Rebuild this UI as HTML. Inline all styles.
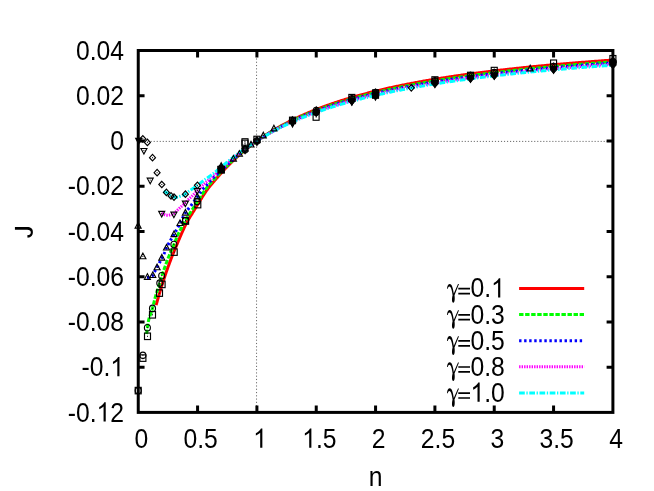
<!DOCTYPE html>
<html><head><meta charset="utf-8"><title>J vs n</title>
<style>html,body{margin:0;padding:0;background:#fff;overflow:hidden}svg{display:block;will-change:transform}</style></head>
<body>
<svg width="654" height="491" viewBox="0 0 654 491">
<rect x="0" y="0" width="654" height="491" fill="#ffffff"/>
<g stroke="#000" stroke-width="0.6" fill="none">
<path d="M138.55 141.40 H612.90" stroke-dasharray="1.15 1.87"/>
<path d="M256.55 51.90 V412.40" stroke-dasharray="1.15 2.12"/>
</g>
<path d="M156.10 305.21 L156.60 303.36 L157.10 301.54 L157.60 299.74 L158.10 297.97 L158.60 296.22 L159.10 294.50 L159.60 292.80 L160.10 291.12 L160.60 289.46 L161.10 287.82 L161.60 286.21 L162.10 284.61 L162.60 283.03 L163.10 281.48 L163.60 279.94 L164.10 278.42 L164.60 276.91 L165.10 275.43 L165.60 273.96 L166.10 272.51 L166.60 271.07 L167.10 269.65 L167.60 268.25 L168.10 266.86 L168.60 265.49 L169.10 264.13 L169.60 262.78 L170.10 261.45 L170.60 260.14 L171.10 258.83 L171.60 257.54 L172.10 256.27 L172.60 255.00 L173.10 253.75 L173.60 252.50 L174.10 251.27 L174.60 250.05 L175.10 248.84 L175.60 247.63 L176.10 246.43 L176.60 245.24 L177.10 244.05 L177.60 242.87 L178.10 241.69 L178.60 240.52 L179.10 239.34 L179.60 238.17 L180.10 237.00 L180.60 235.84 L181.10 234.68 L181.60 233.52 L182.10 232.38 L182.60 231.25 L183.10 230.13 L183.60 229.03 L184.10 227.95 L184.60 226.89 L185.10 225.85 L185.60 224.84 L186.10 223.86 L186.60 222.90 L187.10 221.97 L187.60 221.06 L188.10 220.18 L188.60 219.31 L189.10 218.47 L189.60 217.64 L190.10 216.81 L190.60 216.00 L191.10 215.19 L191.60 214.39 L192.10 213.59 L192.60 212.78 L193.10 211.98 L193.60 211.17 L194.10 210.36 L194.60 209.55 L195.10 208.74 L195.60 207.92 L196.10 207.11 L196.60 206.29 L197.10 205.47 L197.60 204.65 L198.10 203.83 L198.60 203.01 L199.10 202.19 L199.60 201.37 L200.10 200.55 L200.60 199.73 L201.10 198.92 L201.60 198.11 L202.10 197.31 L202.60 196.51 L203.10 195.72 L203.60 194.94 L204.10 194.16 L204.60 193.40 L205.10 192.65 L205.60 191.91 L206.10 191.18 L206.60 190.47 L207.10 189.78 L207.60 189.10 L208.10 188.43 L208.60 187.77 L209.10 187.13 L209.60 186.50 L210.10 185.88 L210.60 185.27 L211.10 184.67 L211.60 184.08 L212.10 183.49 L212.60 182.91 L213.10 182.32 L213.60 181.75 L214.10 181.17 L214.60 180.59 L215.10 180.02 L215.60 179.44 L216.10 178.87 L216.60 178.29 L217.10 177.72 L217.60 177.15 L218.10 176.58 L218.60 176.00 L219.10 175.44 L219.60 174.87 L220.10 174.30 L220.60 173.74 L221.10 173.18 L221.60 172.62 L222.10 172.07 L222.60 171.51 L223.10 170.97 L223.60 170.42 L224.10 169.88 L224.60 169.34 L225.10 168.81 L225.60 168.28 L226.10 167.75 L226.60 167.22 L227.10 166.70 L227.60 166.19 L228.10 165.67 L228.60 165.16 L229.10 164.65 L229.60 164.15 L230.10 163.65 L230.60 163.15 L231.10 162.66 L231.60 162.17 L232.10 161.68 L232.60 161.20 L233.10 160.72 L233.60 160.24 L234.10 159.76 L234.60 159.29 L235.10 158.82 L235.60 158.36 L236.10 157.90 L236.60 157.44 L237.10 156.98 L237.60 156.53 L238.10 156.08 L238.60 155.63 L239.10 155.18 L239.60 154.74 L240.10 154.30 L240.60 153.86 L241.10 153.43 L241.60 153.00 L242.10 152.57 L242.60 152.15 L243.10 151.72 L243.60 151.30 L244.10 150.88 L244.60 150.47 L245.10 150.05 L245.60 149.64 L246.10 149.24 L246.60 148.83 L247.10 148.43 L247.60 148.03 L248.10 147.63 L248.60 147.23 L249.10 146.84 L249.60 146.45 L250.10 146.06 L250.60 145.67 L251.10 145.29 L251.60 144.91 L252.10 144.53 L252.60 144.15 L253.10 143.78 L253.60 143.40 L254.10 143.03 L254.60 142.67 L255.10 142.30 L255.60 141.94 L256.10 141.57 L256.60 141.21 L256.91 140.99 L257.91 140.28 L258.91 139.58 L259.91 138.88 L260.91 138.19 L261.91 137.51 L262.91 136.84 L263.91 136.18 L264.91 135.52 L265.91 134.87 L266.91 134.23 L267.91 133.59 L268.91 132.97 L269.91 132.34 L270.91 131.73 L271.91 131.12 L272.91 130.52 L273.91 129.92 L274.91 129.34 L275.91 128.75 L276.91 128.18 L277.91 127.61 L278.91 127.04 L279.91 126.48 L280.91 125.93 L281.91 125.38 L282.91 124.84 L283.91 124.30 L284.91 123.77 L285.91 123.25 L286.91 122.73 L287.91 122.21 L288.91 121.70 L289.91 121.20 L290.91 120.70 L291.91 120.20 L292.91 119.71 L293.91 119.23 L294.91 118.75 L295.91 118.27 L296.91 117.80 L297.91 117.34 L298.91 116.87 L299.91 116.42 L300.91 115.96 L301.91 115.51 L302.91 115.07 L303.91 114.63 L304.91 114.19 L305.91 113.76 L306.91 113.33 L307.91 112.90 L308.91 112.48 L309.91 112.07 L310.91 111.65 L311.91 111.24 L312.91 110.84 L313.91 110.44 L314.91 110.04 L315.91 109.64 L316.91 109.25 L317.91 108.86 L318.91 108.48 L319.91 108.10 L320.91 107.72 L321.91 107.35 L322.91 106.97 L323.91 106.61 L324.91 106.24 L325.91 105.88 L326.91 105.52 L327.91 105.17 L328.91 104.81 L329.91 104.46 L330.91 104.12 L331.91 103.77 L332.91 103.43 L333.91 103.09 L334.91 102.76 L335.91 102.43 L336.91 102.10 L337.91 101.77 L338.91 101.44 L339.91 101.12 L340.91 100.80 L341.91 100.49 L342.91 100.17 L343.91 99.86 L344.91 99.55 L345.91 99.24 L346.91 98.94 L347.91 98.64 L348.91 98.34 L349.91 98.04 L350.91 97.75 L351.91 97.46 L352.91 97.17 L353.91 96.88 L354.91 96.59 L355.91 96.31 L356.91 96.03 L357.91 95.75 L358.91 95.47 L359.91 95.20 L360.91 94.92 L361.91 94.65 L362.91 94.38 L363.91 94.12 L364.91 93.85 L365.91 93.59 L366.91 93.33 L367.91 93.07 L368.91 92.81 L369.91 92.56 L370.91 92.30 L371.91 92.05 L372.91 91.80 L373.91 91.55 L374.91 91.31 L375.91 91.06 L376.91 90.82 L377.91 90.58 L378.91 90.34 L379.91 90.10 L380.91 89.87 L381.91 89.63 L382.91 89.40 L383.91 89.17 L384.91 88.94 L385.91 88.71 L386.91 88.49 L387.91 88.26 L388.91 88.04 L389.91 87.82 L390.91 87.60 L391.91 87.38 L392.91 87.16 L393.91 86.95 L394.91 86.73 L395.91 86.52 L396.91 86.31 L397.91 86.10 L398.91 85.89 L399.91 85.68 L400.91 85.48 L401.91 85.27 L402.91 85.07 L403.91 84.87 L404.91 84.67 L405.91 84.47 L406.91 84.27 L407.91 84.07 L408.91 83.88 L409.91 83.69 L410.91 83.49 L411.91 83.30 L412.91 83.11 L413.91 82.92 L414.91 82.73 L415.91 82.55 L416.91 82.36 L417.91 82.18 L418.91 82.00 L419.91 81.81 L420.91 81.63 L421.91 81.45 L422.91 81.27 L423.91 81.10 L424.91 80.92 L425.91 80.75 L426.91 80.57 L427.91 80.40 L428.91 80.23 L429.91 80.05 L430.91 79.88 L431.91 79.72 L432.91 79.55 L433.91 79.38 L434.91 79.22 L435.91 79.05 L436.91 78.89 L437.91 78.72 L438.91 78.56 L439.91 78.40 L440.91 78.24 L441.91 78.08 L442.91 77.92 L443.91 77.77 L444.91 77.61 L445.91 77.45 L446.91 77.30 L447.91 77.14 L448.91 76.99 L449.91 76.84 L450.91 76.69 L451.91 76.54 L452.91 76.39 L453.91 76.24 L454.91 76.09 L455.91 75.95 L456.91 75.80 L457.91 75.66 L458.91 75.51 L459.91 75.37 L460.91 75.22 L461.91 75.08 L462.91 74.94 L463.91 74.80 L464.91 74.66 L465.91 74.52 L466.91 74.38 L467.91 74.25 L468.91 74.11 L469.91 73.97 L470.91 73.84 L471.91 73.70 L472.91 73.57 L473.91 73.44 L474.91 73.31 L475.91 73.17 L476.91 73.04 L477.91 72.91 L478.91 72.78 L479.91 72.66 L480.91 72.53 L481.91 72.40 L482.91 72.27 L483.91 72.15 L484.91 72.02 L485.91 71.90 L486.91 71.77 L487.91 71.65 L488.91 71.53 L489.91 71.41 L490.91 71.28 L491.91 71.16 L492.91 71.04 L493.91 70.92 L494.91 70.80 L495.91 70.69 L496.91 70.57 L497.91 70.45 L498.91 70.33 L499.91 70.22 L500.91 70.10 L501.91 69.99 L502.91 69.87 L503.91 69.76 L504.91 69.65 L505.91 69.53 L506.91 69.42 L507.91 69.31 L508.91 69.20 L509.91 69.09 L510.91 68.98 L511.91 68.87 L512.91 68.76 L513.91 68.65 L514.91 68.55 L515.91 68.44 L516.91 68.33 L517.91 68.23 L518.91 68.12 L519.91 68.01 L520.91 67.91 L521.91 67.81 L522.91 67.70 L523.91 67.60 L524.91 67.50 L525.91 67.39 L526.91 67.29 L527.91 67.19 L528.91 67.09 L529.91 66.99 L530.91 66.89 L531.91 66.79 L532.91 66.69 L533.91 66.60 L534.91 66.50 L535.91 66.40 L536.91 66.30 L537.91 66.21 L538.91 66.11 L539.91 66.01 L540.91 65.92 L541.91 65.82 L542.91 65.73 L543.91 65.64 L544.91 65.54 L545.91 65.45 L546.91 65.36 L547.91 65.27 L548.91 65.17 L549.91 65.08 L550.91 64.99 L551.91 64.90 L552.91 64.81 L553.91 64.72 L554.91 64.63 L555.91 64.54 L556.91 64.45 L557.91 64.37 L558.91 64.28 L559.91 64.19 L560.91 64.10 L561.91 64.02 L562.91 63.93 L563.91 63.85 L564.91 63.76 L565.91 63.67 L566.91 63.59 L567.91 63.51 L568.91 63.42 L569.91 63.34 L570.91 63.26 L571.91 63.17 L572.91 63.09 L573.91 63.01 L574.91 62.93 L575.91 62.84 L576.91 62.76 L577.91 62.68 L578.91 62.60 L579.91 62.52 L580.91 62.44 L581.91 62.36 L582.91 62.28 L583.91 62.20 L584.91 62.13 L585.91 62.05 L586.91 61.97 L587.91 61.89 L588.91 61.82 L589.91 61.74 L590.91 61.66 L591.91 61.59 L592.91 61.51 L593.91 61.43 L594.91 61.36 L595.91 61.28 L596.91 61.21 L597.91 61.14 L598.91 61.06 L599.91 60.99 L600.91 60.91 L601.91 60.84 L602.91 60.77 L603.91 60.70 L604.91 60.62 L605.91 60.55 L606.91 60.48 L607.91 60.41 L608.91 60.34 L609.91 60.27 L610.91 60.20 L611.91 60.13 L612.90 60.06" fill="none" stroke="#ff0000" stroke-width="3.0"/>
<path d="M146.60 334.00 L147.10 329.84 L147.60 325.98 L148.10 322.75 L148.60 320.33 L149.10 318.40 L149.60 316.81 L150.10 315.45 L150.60 314.19 L151.10 312.93 L151.60 311.55 L152.10 309.94 L152.60 307.98 L153.10 305.90 L153.60 303.82 L154.10 301.78 L154.60 299.78 L155.10 297.87 L155.60 296.09 L156.10 294.42 L156.60 292.84 L157.10 291.33 L157.60 289.85 L158.10 288.38 L158.60 286.89 L159.10 285.36 L159.60 283.76 L160.10 282.07 L160.60 280.30 L161.10 278.52 L161.60 276.82 L162.10 275.23 L162.60 273.68 L163.10 272.17 L163.60 270.69 L164.10 269.24 L164.60 267.81 L165.10 266.40 L165.60 265.00 L166.10 263.62 L166.60 262.25 L167.10 260.91 L167.60 259.58 L168.10 258.27 L168.60 256.98 L169.10 255.72 L169.60 254.46 L170.10 253.23 L170.60 252.02 L171.10 250.86 L171.60 249.73 L172.10 248.63 L172.60 247.52 L173.10 246.39 L173.60 245.23 L174.10 244.01 L174.60 242.77 L175.10 241.54 L175.60 240.31 L176.10 239.09 L176.60 237.87 L177.10 236.67 L177.60 235.47 L178.10 234.31 L178.60 233.23 L179.10 232.22 L179.60 231.26 L180.10 230.32 L180.60 229.40 L181.10 228.47 L181.60 227.52 L182.10 226.59 L182.60 225.69 L183.10 224.81 L183.60 223.95 L184.10 223.08 L184.60 222.21 L185.10 221.33 L185.60 220.42 L186.10 219.51 L186.60 218.62 L187.10 217.76 L187.60 216.91 L188.10 216.09 L188.60 215.28 L189.10 214.48 L189.60 213.69 L190.10 212.91 L190.60 212.14 L191.10 211.37 L191.60 210.60 L192.10 209.83 L192.60 209.06 L193.10 208.29 L193.60 207.52 L194.10 206.74 L194.60 205.96 L195.10 205.18 L195.60 204.40 L196.10 203.62 L196.60 202.84 L197.10 202.07 L197.60 201.29 L198.10 200.51 L198.60 199.74 L199.10 198.96 L199.60 198.19 L200.10 197.42 L200.60 196.65 L201.10 195.88 L201.60 195.12 L202.10 194.36 L202.60 193.60 L203.10 192.85 L203.60 192.11 L204.10 191.37 L204.60 190.64 L205.10 189.92 L205.60 189.22 L206.10 188.53 L206.60 187.85 L207.10 187.19 L207.60 186.55 L208.10 185.93 L208.60 185.32 L209.10 184.73 L209.60 184.17 L210.10 183.63 L210.60 183.10 L211.10 182.58 L211.60 182.06 L212.10 181.54 L212.60 181.01 L213.10 180.47 L213.60 179.93 L214.10 179.39 L214.60 178.84 L215.10 178.30 L215.60 177.75 L216.10 177.21 L216.60 176.66 L217.10 176.11 L217.60 175.56 L218.10 175.01 L218.60 174.47 L219.10 173.92 L219.60 173.38 L220.10 172.84 L220.60 172.30 L221.10 171.77 L221.60 171.24 L222.10 170.71 L222.60 170.19 L223.10 169.67 L223.60 169.16 L224.10 168.65 L224.60 168.14 L225.10 167.64 L225.60 167.14 L226.10 166.65 L226.60 166.15 L227.10 165.67 L227.60 165.18 L228.10 164.70 L228.60 164.22 L229.10 163.74 L229.60 163.27 L230.10 162.80 L230.60 162.33 L231.10 161.86 L231.60 161.39 L232.10 160.93 L232.60 160.47 L233.10 160.01 L233.60 159.56 L234.10 159.10 L234.60 158.65 L235.10 158.20 L235.60 157.76 L236.10 157.31 L236.60 156.87 L237.10 156.43 L237.60 156.00 L238.10 155.56 L238.60 155.13 L239.10 154.70 L239.60 154.28 L240.10 153.85 L240.60 153.43 L241.10 153.01 L241.60 152.60 L242.10 152.18 L242.60 151.77 L243.10 151.37 L243.60 150.96 L244.10 150.56 L244.60 150.15 L245.10 149.76 L245.60 149.36 L246.10 148.97 L246.60 148.58 L247.10 148.19 L247.60 147.80 L248.10 147.42 L248.60 147.03 L249.10 146.65 L249.60 146.28 L250.10 145.90 L250.60 145.53 L251.10 145.16 L251.60 144.79 L252.10 144.42 L252.60 144.05 L253.10 143.69 L253.60 143.33 L254.10 142.97 L254.60 142.61 L255.10 142.26 L255.60 141.91 L256.10 141.56 L256.60 141.21 L256.91 140.99 L257.91 140.30 L258.91 139.62 L259.91 138.95 L260.91 138.29 L261.91 137.64 L262.91 136.99 L263.91 136.35 L264.91 135.71 L265.91 135.09 L266.91 134.47 L267.91 133.85 L268.91 133.24 L269.91 132.64 L270.91 132.05 L271.91 131.46 L272.91 130.88 L273.91 130.31 L274.91 129.74 L275.91 129.17 L276.91 128.62 L277.91 128.07 L278.91 127.52 L279.91 126.98 L280.91 126.44 L281.91 125.91 L282.91 125.39 L283.91 124.87 L284.91 124.36 L285.91 123.85 L286.91 123.35 L287.91 122.85 L288.91 122.36 L289.91 121.87 L290.91 121.38 L291.91 120.90 L292.91 120.43 L293.91 119.96 L294.91 119.49 L295.91 119.03 L296.91 118.58 L297.91 118.12 L298.91 117.68 L299.91 117.23 L300.91 116.79 L301.91 116.36 L302.91 115.92 L303.91 115.50 L304.91 115.07 L305.91 114.65 L306.91 114.24 L307.91 113.83 L308.91 113.42 L309.91 113.01 L310.91 112.61 L311.91 112.21 L312.91 111.82 L313.91 111.43 L314.91 111.04 L315.91 110.66 L316.91 110.28 L317.91 109.90 L318.91 109.53 L319.91 109.16 L320.91 108.79 L321.91 108.42 L322.91 108.06 L323.91 107.70 L324.91 107.35 L325.91 107.00 L326.91 106.65 L327.91 106.30 L328.91 105.96 L329.91 105.62 L330.91 105.28 L331.91 104.94 L332.91 104.61 L333.91 104.28 L334.91 103.96 L335.91 103.63 L336.91 103.31 L337.91 102.99 L338.91 102.68 L339.91 102.36 L340.91 102.05 L341.91 101.74 L342.91 101.43 L343.91 101.13 L344.91 100.83 L345.91 100.53 L346.91 100.23 L347.91 99.94 L348.91 99.65 L349.91 99.35 L350.91 99.07 L351.91 98.78 L352.91 98.50 L353.91 98.22 L354.91 97.94 L355.91 97.66 L356.91 97.38 L357.91 97.11 L358.91 96.84 L359.91 96.57 L360.91 96.30 L361.91 96.04 L362.91 95.78 L363.91 95.52 L364.91 95.26 L365.91 95.00 L366.91 94.74 L367.91 94.49 L368.91 94.24 L369.91 93.99 L370.91 93.74 L371.91 93.49 L372.91 93.25 L373.91 93.01 L374.91 92.76 L375.91 92.52 L376.91 92.29 L377.91 92.05 L378.91 91.82 L379.91 91.58 L380.91 91.35 L381.91 91.12 L382.91 90.89 L383.91 90.67 L384.91 90.44 L385.91 90.22 L386.91 90.00 L387.91 89.78 L388.91 89.56 L389.91 89.34 L390.91 89.12 L391.91 88.91 L392.91 88.69 L393.91 88.48 L394.91 88.27 L395.91 88.06 L396.91 87.86 L397.91 87.65 L398.91 87.44 L399.91 87.24 L400.91 87.04 L401.91 86.84 L402.91 86.64 L403.91 86.44 L404.91 86.24 L405.91 86.05 L406.91 85.85 L407.91 85.66 L408.91 85.47 L409.91 85.28 L410.91 85.09 L411.91 84.90 L412.91 84.71 L413.91 84.52 L414.91 84.34 L415.91 84.16 L416.91 83.97 L417.91 83.79 L418.91 83.61 L419.91 83.43 L420.91 83.25 L421.91 83.08 L422.91 82.90 L423.91 82.72 L424.91 82.55 L425.91 82.38 L426.91 82.21 L427.91 82.04 L428.91 81.87 L429.91 81.70 L430.91 81.53 L431.91 81.36 L432.91 81.20 L433.91 81.03 L434.91 80.87 L435.91 80.70 L436.91 80.54 L437.91 80.38 L438.91 80.22 L439.91 80.06 L440.91 79.90 L441.91 79.75 L442.91 79.59 L443.91 79.43 L444.91 79.28 L445.91 79.13 L446.91 78.97 L447.91 78.82 L448.91 78.67 L449.91 78.52 L450.91 78.37 L451.91 78.22 L452.91 78.07 L453.91 77.93 L454.91 77.78 L455.91 77.64 L456.91 77.49 L457.91 77.35 L458.91 77.21 L459.91 77.06 L460.91 76.92 L461.91 76.78 L462.91 76.64 L463.91 76.50 L464.91 76.36 L465.91 76.23 L466.91 76.09 L467.91 75.95 L468.91 75.82 L469.91 75.68 L470.91 75.55 L471.91 75.42 L472.91 75.28 L473.91 75.15 L474.91 75.02 L475.91 74.89 L476.91 74.76 L477.91 74.63 L478.91 74.50 L479.91 74.38 L480.91 74.25 L481.91 74.12 L482.91 74.00 L483.91 73.87 L484.91 73.75 L485.91 73.63 L486.91 73.50 L487.91 73.38 L488.91 73.26 L489.91 73.14 L490.91 73.02 L491.91 72.90 L492.91 72.78 L493.91 72.66 L494.91 72.54 L495.91 72.42 L496.91 72.31 L497.91 72.19 L498.91 72.07 L499.91 71.96 L500.91 71.84 L501.91 71.73 L502.91 71.62 L503.91 71.50 L504.91 71.39 L505.91 71.28 L506.91 71.17 L507.91 71.06 L508.91 70.95 L509.91 70.84 L510.91 70.73 L511.91 70.62 L512.91 70.51 L513.91 70.40 L514.91 70.30 L515.91 70.19 L516.91 70.09 L517.91 69.98 L518.91 69.87 L519.91 69.77 L520.91 69.67 L521.91 69.56 L522.91 69.46 L523.91 69.36 L524.91 69.26 L525.91 69.15 L526.91 69.05 L527.91 68.95 L528.91 68.85 L529.91 68.75 L530.91 68.65 L531.91 68.55 L532.91 68.46 L533.91 68.36 L534.91 68.26 L535.91 68.16 L536.91 68.07 L537.91 67.97 L538.91 67.88 L539.91 67.78 L540.91 67.69 L541.91 67.59 L542.91 67.50 L543.91 67.40 L544.91 67.31 L545.91 67.22 L546.91 67.13 L547.91 67.04 L548.91 66.94 L549.91 66.85 L550.91 66.76 L551.91 66.67 L552.91 66.58 L553.91 66.49 L554.91 66.40 L555.91 66.32 L556.91 66.23 L557.91 66.14 L558.91 66.05 L559.91 65.97 L560.91 65.88 L561.91 65.79 L562.91 65.71 L563.91 65.62 L564.91 65.54 L565.91 65.45 L566.91 65.37 L567.91 65.28 L568.91 65.20 L569.91 65.12 L570.91 65.03 L571.91 64.95 L572.91 64.87 L573.91 64.79 L574.91 64.70 L575.91 64.62 L576.91 64.54 L577.91 64.46 L578.91 64.38 L579.91 64.30 L580.91 64.22 L581.91 64.14 L582.91 64.06 L583.91 63.99 L584.91 63.91 L585.91 63.83 L586.91 63.75 L587.91 63.68 L588.91 63.60 L589.91 63.52 L590.91 63.45 L591.91 63.37 L592.91 63.29 L593.91 63.22 L594.91 63.14 L595.91 63.07 L596.91 62.99 L597.91 62.92 L598.91 62.85 L599.91 62.77 L600.91 62.70 L601.91 62.63 L602.91 62.55 L603.91 62.48 L604.91 62.41 L605.91 62.34 L606.91 62.27 L607.91 62.20 L608.91 62.12 L609.91 62.05 L610.91 61.98 L611.91 61.91 L612.90 61.84" fill="none" stroke="#00ff00" stroke-width="3.0" stroke-dasharray="4.4 1.65"/>
<path d="M147.00 277.60 L147.50 277.54 L148.00 277.47 L148.50 277.37 L149.00 277.25 L149.50 277.09 L150.00 276.90 L150.50 276.74 L151.00 276.62 L151.50 276.46 L152.00 276.19 L152.50 275.71 L153.00 274.96 L153.50 273.97 L154.00 272.90 L154.50 271.93 L155.00 271.05 L155.50 270.22 L156.00 269.40 L156.50 268.57 L157.00 267.68 L157.50 266.75 L158.00 265.79 L158.50 264.82 L159.00 263.82 L159.50 262.80 L160.00 261.74 L160.50 260.66 L161.00 259.58 L161.50 258.51 L162.00 257.51 L162.50 256.60 L163.00 255.73 L163.50 254.85 L164.00 253.88 L164.50 252.76 L165.00 251.53 L165.50 250.25 L166.00 248.99 L166.50 247.80 L167.00 246.72 L167.50 245.73 L168.00 244.81 L168.50 243.91 L169.00 243.00 L169.50 242.09 L170.00 241.20 L170.50 240.33 L171.00 239.46 L171.50 238.60 L172.00 237.75 L172.50 236.93 L173.00 236.10 L173.50 235.26 L174.00 234.40 L174.50 233.51 L175.00 232.61 L175.50 231.69 L176.00 230.78 L176.50 229.85 L177.00 228.93 L177.50 228.01 L178.00 227.09 L178.50 226.17 L179.00 225.23 L179.50 224.27 L180.00 223.30 L180.50 222.30 L181.00 221.30 L181.50 220.28 L182.00 219.26 L182.50 218.25 L183.00 217.25 L183.50 216.27 L184.00 215.31 L184.50 214.39 L185.00 213.51 L185.50 212.67 L186.00 211.90 L186.50 211.18 L187.00 210.50 L187.50 209.87 L188.00 209.26 L188.50 208.67 L189.00 208.08 L189.50 207.48 L190.00 206.86 L190.50 206.21 L191.00 205.55 L191.50 204.88 L192.00 204.21 L192.50 203.52 L193.00 202.84 L193.50 202.15 L194.00 201.46 L194.50 200.77 L195.00 200.08 L195.50 199.37 L196.00 198.67 L196.50 197.97 L197.00 197.26 L197.50 196.56 L198.00 195.85 L198.50 195.14 L199.00 194.43 L199.50 193.72 L200.00 193.01 L200.50 192.31 L201.00 191.62 L201.50 190.93 L202.00 190.26 L202.50 189.61 L203.00 188.98 L203.50 188.39 L204.00 187.85 L204.50 187.34 L205.00 186.84 L205.50 186.34 L206.00 185.83 L206.50 185.28 L207.00 184.73 L207.50 184.19 L208.00 183.66 L208.50 183.12 L209.00 182.58 L209.50 182.04 L210.00 181.47 L210.50 180.91 L211.00 180.34 L211.50 179.77 L212.00 179.21 L212.50 178.66 L213.00 178.12 L213.50 177.59 L214.00 177.09 L214.50 176.61 L215.00 176.14 L215.50 175.70 L216.00 175.26 L216.50 174.83 L217.00 174.41 L217.50 173.99 L218.00 173.58 L218.50 173.16 L219.00 172.73 L219.50 172.30 L220.00 171.86 L220.50 171.41 L221.00 170.94 L221.50 170.46 L222.00 169.97 L222.50 169.48 L223.00 168.99 L223.50 168.51 L224.00 168.02 L224.50 167.54 L225.00 167.05 L225.50 166.57 L226.00 166.09 L226.50 165.61 L227.00 165.13 L227.50 164.66 L228.00 164.19 L228.50 163.72 L229.00 163.25 L229.50 162.78 L230.00 162.32 L230.50 161.86 L231.00 161.40 L231.50 160.95 L232.00 160.49 L232.50 160.05 L233.00 159.60 L233.50 159.16 L234.00 158.72 L234.50 158.28 L235.00 157.85 L235.50 157.41 L236.00 156.98 L236.50 156.55 L237.00 156.13 L237.50 155.71 L238.00 155.28 L238.50 154.87 L239.00 154.45 L239.50 154.04 L240.00 153.62 L240.50 153.22 L241.00 152.81 L241.50 152.40 L242.00 152.00 L242.50 151.60 L243.00 151.20 L243.50 150.81 L244.00 150.41 L244.50 150.02 L245.00 149.63 L245.50 149.25 L246.00 148.86 L246.50 148.48 L247.00 148.10 L247.50 147.73 L248.00 147.35 L248.50 146.98 L249.00 146.61 L249.50 146.24 L250.00 145.87 L250.50 145.50 L251.00 145.14 L251.50 144.78 L252.00 144.42 L252.50 144.06 L253.00 143.71 L253.50 143.35 L254.00 143.00 L254.50 142.65 L255.00 142.30 L255.50 141.96 L256.00 141.61 L256.50 141.27 L256.91 140.99 L257.91 140.32 L258.91 139.66 L259.91 139.00 L260.91 138.35 L261.91 137.71 L262.91 137.08 L263.91 136.45 L264.91 135.83 L265.91 135.22 L266.91 134.61 L267.91 134.01 L268.91 133.42 L269.91 132.83 L270.91 132.25 L271.91 131.67 L272.91 131.10 L273.91 130.54 L274.91 129.98 L275.91 129.43 L276.91 128.89 L277.91 128.35 L278.91 127.81 L279.91 127.28 L280.91 126.76 L281.91 126.24 L282.91 125.73 L283.91 125.22 L284.91 124.72 L285.91 124.22 L286.91 123.73 L287.91 123.24 L288.91 122.75 L289.91 122.27 L290.91 121.80 L291.91 121.33 L292.91 120.87 L293.91 120.40 L294.91 119.95 L295.91 119.50 L296.91 119.05 L297.91 118.61 L298.91 118.17 L299.91 117.73 L300.91 117.30 L301.91 116.87 L302.91 116.45 L303.91 116.03 L304.91 115.61 L305.91 115.20 L306.91 114.79 L307.91 114.39 L308.91 113.99 L309.91 113.59 L310.91 113.20 L311.91 112.80 L312.91 112.42 L313.91 112.03 L314.91 111.65 L315.91 111.28 L316.91 110.90 L317.91 110.53 L318.91 110.17 L319.91 109.80 L320.91 109.44 L321.91 109.08 L322.91 108.73 L323.91 108.37 L324.91 108.03 L325.91 107.68 L326.91 107.34 L327.91 107.00 L328.91 106.66 L329.91 106.32 L330.91 105.99 L331.91 105.66 L332.91 105.33 L333.91 105.01 L334.91 104.69 L335.91 104.37 L336.91 104.05 L337.91 103.74 L338.91 103.43 L339.91 103.12 L340.91 102.81 L341.91 102.51 L342.91 102.21 L343.91 101.91 L344.91 101.61 L345.91 101.31 L346.91 101.02 L347.91 100.73 L348.91 100.44 L349.91 100.16 L350.91 99.87 L351.91 99.59 L352.91 99.31 L353.91 99.03 L354.91 98.76 L355.91 98.49 L356.91 98.21 L357.91 97.95 L358.91 97.68 L359.91 97.41 L360.91 97.15 L361.91 96.89 L362.91 96.63 L363.91 96.37 L364.91 96.11 L365.91 95.86 L366.91 95.61 L367.91 95.36 L368.91 95.11 L369.91 94.86 L370.91 94.62 L371.91 94.37 L372.91 94.13 L373.91 93.89 L374.91 93.65 L375.91 93.42 L376.91 93.18 L377.91 92.95 L378.91 92.72 L379.91 92.49 L380.91 92.26 L381.91 92.03 L382.91 91.81 L383.91 91.58 L384.91 91.36 L385.91 91.14 L386.91 90.92 L387.91 90.70 L388.91 90.48 L389.91 90.27 L390.91 90.06 L391.91 89.84 L392.91 89.63 L393.91 89.42 L394.91 89.21 L395.91 89.01 L396.91 88.80 L397.91 88.60 L398.91 88.40 L399.91 88.19 L400.91 87.99 L401.91 87.79 L402.91 87.60 L403.91 87.40 L404.91 87.21 L405.91 87.01 L406.91 86.82 L407.91 86.63 L408.91 86.44 L409.91 86.25 L410.91 86.06 L411.91 85.87 L412.91 85.69 L413.91 85.50 L414.91 85.32 L415.91 85.14 L416.91 84.96 L417.91 84.78 L418.91 84.60 L419.91 84.42 L420.91 84.24 L421.91 84.07 L422.91 83.89 L423.91 83.72 L424.91 83.55 L425.91 83.38 L426.91 83.20 L427.91 83.04 L428.91 82.87 L429.91 82.70 L430.91 82.53 L431.91 82.37 L432.91 82.20 L433.91 82.04 L434.91 81.88 L435.91 81.72 L436.91 81.55 L437.91 81.39 L438.91 81.24 L439.91 81.08 L440.91 80.92 L441.91 80.76 L442.91 80.61 L443.91 80.46 L444.91 80.30 L445.91 80.15 L446.91 80.00 L447.91 79.85 L448.91 79.70 L449.91 79.55 L450.91 79.40 L451.91 79.25 L452.91 79.10 L453.91 78.96 L454.91 78.81 L455.91 78.67 L456.91 78.53 L457.91 78.38 L458.91 78.24 L459.91 78.10 L460.91 77.96 L461.91 77.82 L462.91 77.68 L463.91 77.54 L464.91 77.40 L465.91 77.27 L466.91 77.13 L467.91 77.00 L468.91 76.86 L469.91 76.73 L470.91 76.60 L471.91 76.46 L472.91 76.33 L473.91 76.20 L474.91 76.07 L475.91 75.94 L476.91 75.81 L477.91 75.68 L478.91 75.56 L479.91 75.43 L480.91 75.30 L481.91 75.18 L482.91 75.05 L483.91 74.93 L484.91 74.80 L485.91 74.68 L486.91 74.56 L487.91 74.44 L488.91 74.32 L489.91 74.20 L490.91 74.08 L491.91 73.96 L492.91 73.84 L493.91 73.72 L494.91 73.60 L495.91 73.48 L496.91 73.37 L497.91 73.25 L498.91 73.14 L499.91 73.02 L500.91 72.91 L501.91 72.79 L502.91 72.68 L503.91 72.57 L504.91 72.46 L505.91 72.35 L506.91 72.24 L507.91 72.13 L508.91 72.02 L509.91 71.91 L510.91 71.80 L511.91 71.69 L512.91 71.58 L513.91 71.47 L514.91 71.37 L515.91 71.26 L516.91 71.16 L517.91 71.05 L518.91 70.95 L519.91 70.84 L520.91 70.74 L521.91 70.64 L522.91 70.53 L523.91 70.43 L524.91 70.33 L525.91 70.23 L526.91 70.13 L527.91 70.03 L528.91 69.93 L529.91 69.83 L530.91 69.73 L531.91 69.63 L532.91 69.53 L533.91 69.44 L534.91 69.34 L535.91 69.24 L536.91 69.15 L537.91 69.05 L538.91 68.96 L539.91 68.86 L540.91 68.77 L541.91 68.67 L542.91 68.58 L543.91 68.49 L544.91 68.39 L545.91 68.30 L546.91 68.21 L547.91 68.12 L548.91 68.03 L549.91 67.94 L550.91 67.84 L551.91 67.75 L552.91 67.67 L553.91 67.58 L554.91 67.49 L555.91 67.40 L556.91 67.31 L557.91 67.22 L558.91 67.14 L559.91 67.05 L560.91 66.96 L561.91 66.88 L562.91 66.79 L563.91 66.71 L564.91 66.62 L565.91 66.54 L566.91 66.45 L567.91 66.37 L568.91 66.29 L569.91 66.20 L570.91 66.12 L571.91 66.04 L572.91 65.96 L573.91 65.87 L574.91 65.79 L575.91 65.71 L576.91 65.63 L577.91 65.55 L578.91 65.47 L579.91 65.39 L580.91 65.31 L581.91 65.23 L582.91 65.15 L583.91 65.08 L584.91 65.00 L585.91 64.92 L586.91 64.84 L587.91 64.77 L588.91 64.69 L589.91 64.61 L590.91 64.54 L591.91 64.46 L592.91 64.38 L593.91 64.31 L594.91 64.23 L595.91 64.16 L596.91 64.09 L597.91 64.01 L598.91 63.94 L599.91 63.86 L600.91 63.79 L601.91 63.72 L602.91 63.65 L603.91 63.57 L604.91 63.50 L605.91 63.43 L606.91 63.36 L607.91 63.29 L608.91 63.22 L609.91 63.15 L610.91 63.08 L611.91 63.01 L612.90 62.94" fill="none" stroke="#0000ff" stroke-width="3.0" stroke-dasharray="2.4 2.65"/>
<path d="M161.80 213.10 L162.30 213.44 L162.80 213.76 L163.30 214.05 L163.80 214.30 L164.30 214.52 L164.80 214.71 L165.30 214.87 L165.80 215.00 L166.30 215.11 L166.80 215.17 L167.30 215.20 L167.80 215.20 L168.30 215.17 L168.80 215.13 L169.30 215.06 L169.80 214.96 L170.30 214.85 L170.80 214.72 L171.30 214.60 L171.80 214.47 L172.30 214.31 L172.80 214.11 L173.30 213.85 L173.80 213.53 L174.30 213.15 L174.80 212.72 L175.30 212.27 L175.80 211.79 L176.30 211.30 L176.80 210.79 L177.30 210.29 L177.80 209.79 L178.30 209.30 L178.80 208.83 L179.30 208.38 L179.80 207.93 L180.30 207.49 L180.80 207.05 L181.30 206.61 L181.80 206.17 L182.30 205.72 L182.80 205.27 L183.30 204.80 L183.80 204.32 L184.30 203.83 L184.80 203.32 L185.30 202.79 L185.80 202.26 L186.30 201.73 L186.80 201.21 L187.30 200.69 L187.80 200.18 L188.30 199.68 L188.80 199.18 L189.30 198.70 L189.80 198.22 L190.30 197.74 L190.80 197.28 L191.30 196.82 L191.80 196.35 L192.30 195.87 L192.80 195.39 L193.30 194.90 L193.80 194.40 L194.30 193.90 L194.80 193.39 L195.30 192.87 L195.80 192.36 L196.30 191.84 L196.80 191.32 L197.30 190.81 L197.80 190.29 L198.30 189.78 L198.80 189.27 L199.30 188.76 L199.80 188.24 L200.30 187.73 L200.80 187.22 L201.30 186.71 L201.80 186.21 L202.30 185.70 L202.80 185.20 L203.30 184.70 L203.80 184.22 L204.30 183.76 L204.80 183.31 L205.30 182.88 L205.80 182.45 L206.30 182.04 L206.80 181.63 L207.30 181.22 L207.80 180.82 L208.30 180.42 L208.80 180.01 L209.30 179.60 L209.80 179.17 L210.30 178.74 L210.80 178.30 L211.30 177.86 L211.80 177.43 L212.30 176.99 L212.80 176.56 L213.30 176.12 L213.80 175.67 L214.30 175.23 L214.80 174.78 L215.30 174.32 L215.80 173.87 L216.30 173.41 L216.80 172.95 L217.30 172.48 L217.80 172.02 L218.30 171.55 L218.80 171.08 L219.30 170.61 L219.80 170.14 L220.30 169.68 L220.80 169.21 L221.30 168.75 L221.80 168.29 L222.30 167.83 L222.80 167.38 L223.30 166.92 L223.80 166.47 L224.30 166.02 L224.80 165.57 L225.30 165.12 L225.80 164.67 L226.30 164.23 L226.80 163.79 L227.30 163.35 L227.80 162.91 L228.30 162.48 L228.80 162.04 L229.30 161.61 L229.80 161.18 L230.30 160.76 L230.80 160.33 L231.30 159.91 L231.80 159.49 L232.30 159.07 L232.80 158.66 L233.30 158.24 L233.80 157.83 L234.30 157.42 L234.80 157.01 L235.30 156.60 L235.80 156.20 L236.30 155.80 L236.80 155.40 L237.30 155.00 L237.80 154.60 L238.30 154.21 L238.80 153.82 L239.30 153.43 L239.80 153.04 L240.30 152.65 L240.80 152.27 L241.30 151.89 L241.80 151.51 L242.30 151.13 L242.80 150.76 L243.30 150.38 L243.80 150.01 L244.30 149.65 L244.80 149.28 L245.30 148.91 L245.80 148.55 L246.30 148.19 L246.80 147.83 L247.30 147.48 L247.80 147.12 L248.30 146.77 L248.80 146.42 L249.30 146.07 L249.80 145.73 L250.30 145.38 L250.80 145.04 L251.30 144.70 L251.80 144.36 L252.30 144.02 L252.80 143.69 L253.30 143.35 L253.80 143.02 L254.30 142.69 L254.80 142.36 L255.30 142.03 L255.80 141.71 L256.30 141.38 L256.80 141.06 L256.91 140.99 L257.91 140.34 L258.91 139.69 L259.91 139.05 L260.91 138.42 L261.91 137.79 L262.91 137.17 L263.91 136.56 L264.91 135.96 L265.91 135.36 L266.91 134.77 L267.91 134.18 L268.91 133.60 L269.91 133.03 L270.91 132.46 L271.91 131.90 L272.91 131.34 L273.91 130.80 L274.91 130.25 L275.91 129.71 L276.91 129.18 L277.91 128.65 L278.91 128.13 L279.91 127.61 L280.91 127.10 L281.91 126.60 L282.91 126.09 L283.91 125.60 L284.91 125.11 L285.91 124.62 L286.91 124.14 L287.91 123.66 L288.91 123.19 L289.91 122.72 L290.91 122.26 L291.91 121.80 L292.91 121.34 L293.91 120.89 L294.91 120.44 L295.91 120.00 L296.91 119.56 L297.91 119.13 L298.91 118.70 L299.91 118.27 L300.91 117.85 L301.91 117.43 L302.91 117.02 L303.91 116.61 L304.91 116.20 L305.91 115.80 L306.91 115.40 L307.91 115.00 L308.91 114.61 L309.91 114.22 L310.91 113.83 L311.91 113.45 L312.91 113.07 L313.91 112.70 L314.91 112.32 L315.91 111.95 L316.91 111.59 L317.91 111.22 L318.91 110.86 L319.91 110.51 L320.91 110.15 L321.91 109.80 L322.91 109.45 L323.91 109.11 L324.91 108.76 L325.91 108.42 L326.91 108.09 L327.91 107.75 L328.91 107.42 L329.91 107.09 L330.91 106.77 L331.91 106.44 L332.91 106.12 L333.91 105.80 L334.91 105.49 L335.91 105.17 L336.91 104.86 L337.91 104.55 L338.91 104.25 L339.91 103.94 L340.91 103.64 L341.91 103.34 L342.91 103.05 L343.91 102.75 L344.91 102.46 L345.91 102.17 L346.91 101.88 L347.91 101.60 L348.91 101.31 L349.91 101.03 L350.91 100.75 L351.91 100.48 L352.91 100.20 L353.91 99.93 L354.91 99.66 L355.91 99.39 L356.91 99.12 L357.91 98.85 L358.91 98.59 L359.91 98.33 L360.91 98.07 L361.91 97.81 L362.91 97.56 L363.91 97.30 L364.91 97.05 L365.91 96.80 L366.91 96.55 L367.91 96.31 L368.91 96.06 L369.91 95.82 L370.91 95.58 L371.91 95.34 L372.91 95.10 L373.91 94.86 L374.91 94.63 L375.91 94.39 L376.91 94.16 L377.91 93.93 L378.91 93.70 L379.91 93.47 L380.91 93.25 L381.91 93.02 L382.91 92.80 L383.91 92.58 L384.91 92.36 L385.91 92.14 L386.91 91.93 L387.91 91.71 L388.91 91.50 L389.91 91.28 L390.91 91.07 L391.91 90.86 L392.91 90.65 L393.91 90.45 L394.91 90.24 L395.91 90.04 L396.91 89.83 L397.91 89.63 L398.91 89.43 L399.91 89.23 L400.91 89.03 L401.91 88.84 L402.91 88.64 L403.91 88.45 L404.91 88.26 L405.91 88.06 L406.91 87.87 L407.91 87.68 L408.91 87.49 L409.91 87.31 L410.91 87.12 L411.91 86.94 L412.91 86.75 L413.91 86.57 L414.91 86.39 L415.91 86.21 L416.91 86.03 L417.91 85.85 L418.91 85.67 L419.91 85.50 L420.91 85.32 L421.91 85.15 L422.91 84.98 L423.91 84.80 L424.91 84.63 L425.91 84.46 L426.91 84.29 L427.91 84.13 L428.91 83.96 L429.91 83.79 L430.91 83.63 L431.91 83.46 L432.91 83.30 L433.91 83.14 L434.91 82.98 L435.91 82.82 L436.91 82.66 L437.91 82.50 L438.91 82.34 L439.91 82.19 L440.91 82.03 L441.91 81.88 L442.91 81.72 L443.91 81.57 L444.91 81.42 L445.91 81.26 L446.91 81.11 L447.91 80.96 L448.91 80.82 L449.91 80.67 L450.91 80.52 L451.91 80.37 L452.91 80.23 L453.91 80.08 L454.91 79.94 L455.91 79.80 L456.91 79.65 L457.91 79.51 L458.91 79.37 L459.91 79.23 L460.91 79.09 L461.91 78.95 L462.91 78.81 L463.91 78.68 L464.91 78.54 L465.91 78.40 L466.91 78.27 L467.91 78.14 L468.91 78.00 L469.91 77.87 L470.91 77.74 L471.91 77.60 L472.91 77.47 L473.91 77.34 L474.91 77.21 L475.91 77.09 L476.91 76.96 L477.91 76.83 L478.91 76.70 L479.91 76.58 L480.91 76.45 L481.91 76.33 L482.91 76.20 L483.91 76.08 L484.91 75.96 L485.91 75.83 L486.91 75.71 L487.91 75.59 L488.91 75.47 L489.91 75.35 L490.91 75.23 L491.91 75.11 L492.91 74.99 L493.91 74.88 L494.91 74.76 L495.91 74.64 L496.91 74.53 L497.91 74.41 L498.91 74.30 L499.91 74.18 L500.91 74.07 L501.91 73.96 L502.91 73.84 L503.91 73.73 L504.91 73.62 L505.91 73.51 L506.91 73.40 L507.91 73.29 L508.91 73.18 L509.91 73.07 L510.91 72.96 L511.91 72.86 L512.91 72.75 L513.91 72.64 L514.91 72.54 L515.91 72.43 L516.91 72.33 L517.91 72.22 L518.91 72.12 L519.91 72.01 L520.91 71.91 L521.91 71.81 L522.91 71.70 L523.91 71.60 L524.91 71.50 L525.91 71.40 L526.91 71.30 L527.91 71.20 L528.91 71.10 L529.91 71.00 L530.91 70.90 L531.91 70.81 L532.91 70.71 L533.91 70.61 L534.91 70.51 L535.91 70.42 L536.91 70.32 L537.91 70.23 L538.91 70.13 L539.91 70.04 L540.91 69.94 L541.91 69.85 L542.91 69.76 L543.91 69.66 L544.91 69.57 L545.91 69.48 L546.91 69.39 L547.91 69.30 L548.91 69.21 L549.91 69.12 L550.91 69.03 L551.91 68.94 L552.91 68.85 L553.91 68.76 L554.91 68.67 L555.91 68.58 L556.91 68.49 L557.91 68.41 L558.91 68.32 L559.91 68.23 L560.91 68.15 L561.91 68.06 L562.91 67.98 L563.91 67.89 L564.91 67.81 L565.91 67.72 L566.91 67.64 L567.91 67.55 L568.91 67.47 L569.91 67.39 L570.91 67.31 L571.91 67.22 L572.91 67.14 L573.91 67.06 L574.91 66.98 L575.91 66.90 L576.91 66.82 L577.91 66.74 L578.91 66.66 L579.91 66.58 L580.91 66.50 L581.91 66.42 L582.91 66.34 L583.91 66.26 L584.91 66.19 L585.91 66.11 L586.91 66.03 L587.91 65.95 L588.91 65.88 L589.91 65.80 L590.91 65.72 L591.91 65.65 L592.91 65.57 L593.91 65.50 L594.91 65.42 L595.91 65.35 L596.91 65.28 L597.91 65.20 L598.91 65.13 L599.91 65.05 L600.91 64.98 L601.91 64.91 L602.91 64.84 L603.91 64.76 L604.91 64.69 L605.91 64.62 L606.91 64.55 L607.91 64.48 L608.91 64.41 L609.91 64.34 L610.91 64.27 L611.91 64.20 L612.90 64.13" fill="none" stroke="#ff00ff" stroke-width="3.0" stroke-dasharray="1.4 1.1"/>
<path d="M163.70 191.00 L164.20 191.28 L164.70 191.57 L165.20 191.86 L165.70 192.17 L166.20 192.48 L166.70 192.79 L167.20 193.13 L167.70 193.49 L168.20 193.86 L168.70 194.23 L169.20 194.60 L169.70 194.96 L170.20 195.31 L170.70 195.62 L171.20 195.91 L171.70 196.18 L172.20 196.42 L172.70 196.64 L173.20 196.84 L173.70 197.00 L174.20 197.14 L174.70 197.26 L175.20 197.35 L175.70 197.40 L176.20 197.41 L176.70 197.35 L177.20 197.26 L177.70 197.13 L178.20 196.97 L178.70 196.79 L179.20 196.60 L179.70 196.41 L180.20 196.24 L180.70 196.07 L181.20 195.90 L181.70 195.73 L182.20 195.55 L182.70 195.35 L183.20 195.14 L183.70 194.90 L184.20 194.63 L184.70 194.34 L185.20 194.00 L185.70 193.64 L186.20 193.26 L186.70 192.88 L187.20 192.50 L187.70 192.12 L188.20 191.74 L188.70 191.37 L189.20 191.01 L189.70 190.65 L190.20 190.30 L190.70 189.96 L191.20 189.64 L191.70 189.31 L192.20 188.98 L192.70 188.64 L193.20 188.29 L193.70 187.94 L194.20 187.57 L194.70 187.21 L195.20 186.83 L195.70 186.46 L196.20 186.08 L196.70 185.70 L197.20 185.33 L197.70 184.95 L198.20 184.58 L198.70 184.21 L199.20 183.85 L199.70 183.49 L200.20 183.13 L200.70 182.77 L201.20 182.41 L201.70 182.04 L202.20 181.67 L202.70 181.30 L203.20 180.92 L203.70 180.53 L204.20 180.14 L204.70 179.76 L205.20 179.39 L205.70 179.03 L206.20 178.67 L206.70 178.32 L207.20 177.98 L207.70 177.63 L208.20 177.29 L208.70 176.94 L209.20 176.59 L209.70 176.22 L210.20 175.85 L210.70 175.47 L211.20 175.10 L211.70 174.72 L212.20 174.35 L212.70 173.97 L213.20 173.59 L213.70 173.20 L214.20 172.82 L214.70 172.42 L215.20 172.03 L215.70 171.62 L216.20 171.22 L216.70 170.81 L217.20 170.40 L217.70 169.98 L218.20 169.56 L218.70 169.14 L219.20 168.72 L219.70 168.30 L220.20 167.88 L220.70 167.46 L221.20 167.04 L221.70 166.62 L222.20 166.20 L222.70 165.78 L223.20 165.36 L223.70 164.95 L224.20 164.53 L224.70 164.12 L225.20 163.71 L225.70 163.30 L226.20 162.89 L226.70 162.49 L227.20 162.08 L227.70 161.68 L228.20 161.27 L228.70 160.87 L229.20 160.47 L229.70 160.07 L230.20 159.68 L230.70 159.28 L231.20 158.89 L231.70 158.49 L232.20 158.10 L232.70 157.71 L233.20 157.32 L233.70 156.94 L234.20 156.55 L234.70 156.17 L235.20 155.78 L235.70 155.40 L236.20 155.02 L236.70 154.64 L237.20 154.27 L237.70 153.89 L238.20 153.52 L238.70 153.14 L239.20 152.77 L239.70 152.40 L240.20 152.04 L240.70 151.67 L241.20 151.31 L241.70 150.95 L242.20 150.59 L242.70 150.24 L243.20 149.88 L243.70 149.53 L244.20 149.18 L244.70 148.84 L245.20 148.49 L245.70 148.15 L246.20 147.81 L246.70 147.48 L247.20 147.14 L247.70 146.81 L248.20 146.48 L248.70 146.15 L249.20 145.82 L249.70 145.49 L250.20 145.17 L250.70 144.85 L251.20 144.53 L251.70 144.21 L252.20 143.89 L252.70 143.58 L253.20 143.26 L253.70 142.95 L254.20 142.64 L254.70 142.33 L255.20 142.03 L255.70 141.72 L256.20 141.42 L256.70 141.12 L256.91 140.99 L257.91 140.35 L258.91 139.72 L259.91 139.09 L260.91 138.48 L261.91 137.87 L262.91 137.26 L263.91 136.66 L264.91 136.07 L265.91 135.49 L266.91 134.91 L267.91 134.34 L268.91 133.77 L269.91 133.21 L270.91 132.66 L271.91 132.11 L272.91 131.57 L273.91 131.03 L274.91 130.50 L275.91 129.97 L276.91 129.45 L277.91 128.93 L278.91 128.42 L279.91 127.92 L280.91 127.42 L281.91 126.92 L282.91 126.43 L283.91 125.95 L284.91 125.46 L285.91 124.99 L286.91 124.52 L287.91 124.05 L288.91 123.59 L289.91 123.13 L290.91 122.67 L291.91 122.22 L292.91 121.78 L293.91 121.34 L294.91 120.90 L295.91 120.47 L296.91 120.04 L297.91 119.61 L298.91 119.19 L299.91 118.77 L300.91 118.36 L301.91 117.95 L302.91 117.54 L303.91 117.14 L304.91 116.74 L305.91 116.35 L306.91 115.95 L307.91 115.56 L308.91 115.18 L309.91 114.80 L310.91 114.42 L311.91 114.04 L312.91 113.67 L313.91 113.30 L314.91 112.94 L315.91 112.57 L316.91 112.21 L317.91 111.86 L318.91 111.50 L319.91 111.15 L320.91 110.80 L321.91 110.46 L322.91 110.12 L323.91 109.78 L324.91 109.44 L325.91 109.11 L326.91 108.78 L327.91 108.45 L328.91 108.12 L329.91 107.80 L330.91 107.48 L331.91 107.16 L332.91 106.84 L333.91 106.53 L334.91 106.22 L335.91 105.91 L336.91 105.61 L337.91 105.30 L338.91 105.00 L339.91 104.70 L340.91 104.40 L341.91 104.11 L342.91 103.82 L343.91 103.53 L344.91 103.24 L345.91 102.96 L346.91 102.67 L347.91 102.39 L348.91 102.11 L349.91 101.83 L350.91 101.56 L351.91 101.29 L352.91 101.01 L353.91 100.75 L354.91 100.48 L355.91 100.21 L356.91 99.95 L357.91 99.69 L358.91 99.43 L359.91 99.17 L360.91 98.92 L361.91 98.66 L362.91 98.41 L363.91 98.16 L364.91 97.91 L365.91 97.66 L366.91 97.42 L367.91 97.17 L368.91 96.93 L369.91 96.69 L370.91 96.45 L371.91 96.22 L372.91 95.98 L373.91 95.75 L374.91 95.52 L375.91 95.29 L376.91 95.06 L377.91 94.83 L378.91 94.60 L379.91 94.38 L380.91 94.16 L381.91 93.93 L382.91 93.71 L383.91 93.50 L384.91 93.28 L385.91 93.06 L386.91 92.85 L387.91 92.64 L388.91 92.42 L389.91 92.21 L390.91 92.01 L391.91 91.80 L392.91 91.59 L393.91 91.39 L394.91 91.18 L395.91 90.98 L396.91 90.78 L397.91 90.58 L398.91 90.38 L399.91 90.18 L400.91 89.99 L401.91 89.79 L402.91 89.60 L403.91 89.41 L404.91 89.22 L405.91 89.03 L406.91 88.84 L407.91 88.65 L408.91 88.46 L409.91 88.28 L410.91 88.10 L411.91 87.91 L412.91 87.73 L413.91 87.55 L414.91 87.37 L415.91 87.19 L416.91 87.01 L417.91 86.84 L418.91 86.66 L419.91 86.49 L420.91 86.31 L421.91 86.14 L422.91 85.97 L423.91 85.80 L424.91 85.63 L425.91 85.46 L426.91 85.29 L427.91 85.13 L428.91 84.96 L429.91 84.80 L430.91 84.63 L431.91 84.47 L432.91 84.31 L433.91 84.15 L434.91 83.99 L435.91 83.83 L436.91 83.67 L437.91 83.51 L438.91 83.36 L439.91 83.20 L440.91 83.05 L441.91 82.89 L442.91 82.74 L443.91 82.59 L444.91 82.44 L445.91 82.29 L446.91 82.14 L447.91 81.99 L448.91 81.84 L449.91 81.69 L450.91 81.55 L451.91 81.40 L452.91 81.26 L453.91 81.11 L454.91 80.97 L455.91 80.83 L456.91 80.69 L457.91 80.55 L458.91 80.41 L459.91 80.27 L460.91 80.13 L461.91 79.99 L462.91 79.85 L463.91 79.72 L464.91 79.58 L465.91 79.45 L466.91 79.31 L467.91 79.18 L468.91 79.05 L469.91 78.91 L470.91 78.78 L471.91 78.65 L472.91 78.52 L473.91 78.39 L474.91 78.26 L475.91 78.13 L476.91 78.01 L477.91 77.88 L478.91 77.75 L479.91 77.63 L480.91 77.50 L481.91 77.38 L482.91 77.26 L483.91 77.13 L484.91 77.01 L485.91 76.89 L486.91 76.77 L487.91 76.65 L488.91 76.53 L489.91 76.41 L490.91 76.29 L491.91 76.17 L492.91 76.05 L493.91 75.94 L494.91 75.82 L495.91 75.70 L496.91 75.59 L497.91 75.47 L498.91 75.36 L499.91 75.25 L500.91 75.13 L501.91 75.02 L502.91 74.91 L503.91 74.80 L504.91 74.69 L505.91 74.58 L506.91 74.47 L507.91 74.36 L508.91 74.25 L509.91 74.14 L510.91 74.03 L511.91 73.93 L512.91 73.82 L513.91 73.71 L514.91 73.61 L515.91 73.50 L516.91 73.40 L517.91 73.29 L518.91 73.19 L519.91 73.09 L520.91 72.98 L521.91 72.88 L522.91 72.78 L523.91 72.68 L524.91 72.58 L525.91 72.48 L526.91 72.38 L527.91 72.28 L528.91 72.18 L529.91 72.08 L530.91 71.98 L531.91 71.88 L532.91 71.79 L533.91 71.69 L534.91 71.59 L535.91 71.50 L536.91 71.40 L537.91 71.31 L538.91 71.21 L539.91 71.12 L540.91 71.02 L541.91 70.93 L542.91 70.84 L543.91 70.74 L544.91 70.65 L545.91 70.56 L546.91 70.47 L547.91 70.38 L548.91 70.29 L549.91 70.20 L550.91 70.11 L551.91 70.02 L552.91 69.93 L553.91 69.84 L554.91 69.75 L555.91 69.66 L556.91 69.58 L557.91 69.49 L558.91 69.40 L559.91 69.32 L560.91 69.23 L561.91 69.15 L562.91 69.06 L563.91 68.98 L564.91 68.89 L565.91 68.81 L566.91 68.72 L567.91 68.64 L568.91 68.56 L569.91 68.47 L570.91 68.39 L571.91 68.31 L572.91 68.23 L573.91 68.15 L574.91 68.07 L575.91 67.99 L576.91 67.90 L577.91 67.82 L578.91 67.75 L579.91 67.67 L580.91 67.59 L581.91 67.51 L582.91 67.43 L583.91 67.35 L584.91 67.27 L585.91 67.20 L586.91 67.12 L587.91 67.04 L588.91 66.97 L589.91 66.89 L590.91 66.81 L591.91 66.74 L592.91 66.66 L593.91 66.59 L594.91 66.51 L595.91 66.44 L596.91 66.37 L597.91 66.29 L598.91 66.22 L599.91 66.15 L600.91 66.07 L601.91 66.00 L602.91 65.93 L603.91 65.86 L604.91 65.78 L605.91 65.71 L606.91 65.64 L607.91 65.57 L608.91 65.50 L609.91 65.43 L610.91 65.36 L611.91 65.29 L612.90 65.22" fill="none" stroke="#00ffff" stroke-width="3.0" stroke-dasharray="5.7 1.6 1.3 1.6"/>
<g stroke="#000" stroke-width="1.15" stroke-linejoin="miter">
<rect x="135.20" y="387.35" width="6.00" height="6.50" fill="none"/>
<rect x="137.70" y="390.10" width="1" height="1" fill="#000" stroke="none"/>
<rect x="139.90" y="354.85" width="6.00" height="6.50" fill="none"/>
<rect x="142.40" y="357.60" width="1" height="1" fill="#000" stroke="none"/>
<rect x="144.50" y="333.05" width="6.00" height="6.50" fill="none"/>
<rect x="147.00" y="335.80" width="1" height="1" fill="#000" stroke="none"/>
<rect x="149.50" y="311.55" width="6.00" height="6.50" fill="none"/>
<rect x="152.00" y="314.30" width="1" height="1" fill="#000" stroke="none"/>
<rect x="156.50" y="289.85" width="6.00" height="6.50" fill="none"/>
<rect x="159.00" y="292.60" width="1" height="1" fill="#000" stroke="none"/>
<rect x="159.10" y="281.15" width="6.00" height="6.50" fill="none"/>
<rect x="161.60" y="283.90" width="1" height="1" fill="#000" stroke="none"/>
<rect x="171.20" y="248.85" width="6.00" height="6.50" fill="none"/>
<rect x="173.70" y="251.60" width="1" height="1" fill="#000" stroke="none"/>
<rect x="182.60" y="217.75" width="6.00" height="6.50" fill="none"/>
<rect x="185.10" y="220.50" width="1" height="1" fill="#000" stroke="none"/>
<rect x="194.80" y="201.35" width="6.00" height="6.50" fill="none"/>
<rect x="197.30" y="204.10" width="1" height="1" fill="#000" stroke="none"/>
<rect x="242.00" y="138.75" width="6.00" height="6.50" fill="none"/>
<rect x="244.50" y="141.50" width="1" height="1" fill="#000" stroke="none"/>
<rect x="242.00" y="140.15" width="6.00" height="6.50" fill="none"/>
<rect x="244.50" y="142.90" width="1" height="1" fill="#000" stroke="none"/>
<rect x="313.10" y="113.75" width="6.00" height="6.50" fill="none"/>
<rect x="315.60" y="116.50" width="1" height="1" fill="#000" stroke="none"/>
<rect x="218.20" y="166.35" width="6.00" height="6.50" fill="none"/>
<rect x="220.70" y="169.10" width="1" height="1" fill="#000" stroke="none"/>
<rect x="253.91" y="136.24" width="6.00" height="6.50" fill="none"/>
<rect x="256.41" y="138.99" width="1" height="1" fill="#000" stroke="none"/>
<rect x="289.51" y="117.16" width="6.00" height="6.50" fill="none"/>
<rect x="292.01" y="119.91" width="1" height="1" fill="#000" stroke="none"/>
<rect x="348.84" y="94.43" width="6.00" height="6.50" fill="none"/>
<rect x="351.34" y="97.18" width="1" height="1" fill="#000" stroke="none"/>
<rect x="372.57" y="89.90" width="6.00" height="6.50" fill="none"/>
<rect x="375.07" y="92.65" width="1" height="1" fill="#000" stroke="none"/>
<rect x="431.91" y="76.77" width="6.00" height="6.50" fill="none"/>
<rect x="434.41" y="79.52" width="1" height="1" fill="#000" stroke="none"/>
<rect x="467.50" y="72.24" width="6.00" height="6.50" fill="none"/>
<rect x="470.00" y="74.99" width="1" height="1" fill="#000" stroke="none"/>
<rect x="491.24" y="67.33" width="6.00" height="6.50" fill="none"/>
<rect x="493.74" y="70.08" width="1" height="1" fill="#000" stroke="none"/>
<rect x="550.57" y="60.00" width="6.00" height="6.50" fill="none"/>
<rect x="553.07" y="62.75" width="1" height="1" fill="#000" stroke="none"/>
<rect x="609.90" y="55.51" width="6.00" height="6.50" fill="none"/>
<rect x="612.40" y="58.26" width="1" height="1" fill="#000" stroke="none"/>
<rect x="372.50" y="91.75" width="6.00" height="6.50" fill="#000"/>
<rect x="218.20" y="166.45" width="6.00" height="6.50" fill="#000"/>
<ellipse cx="138.20" cy="390.60" rx="3.00" ry="3.25" fill="none"/>
<rect x="137.70" y="390.10" width="1" height="1" fill="#000" stroke="none"/>
<ellipse cx="142.90" cy="355.30" rx="3.00" ry="3.25" fill="none"/>
<rect x="142.40" y="354.80" width="1" height="1" fill="#000" stroke="none"/>
<ellipse cx="147.40" cy="327.70" rx="3.00" ry="3.25" fill="none"/>
<rect x="146.90" y="327.20" width="1" height="1" fill="#000" stroke="none"/>
<ellipse cx="152.50" cy="308.40" rx="3.00" ry="3.25" fill="none"/>
<rect x="152.00" y="307.90" width="1" height="1" fill="#000" stroke="none"/>
<ellipse cx="159.80" cy="283.10" rx="3.00" ry="3.25" fill="none"/>
<rect x="159.30" y="282.60" width="1" height="1" fill="#000" stroke="none"/>
<ellipse cx="161.70" cy="275.70" rx="3.00" ry="3.25" fill="none"/>
<rect x="161.20" y="275.20" width="1" height="1" fill="#000" stroke="none"/>
<ellipse cx="173.90" cy="244.50" rx="3.00" ry="3.25" fill="none"/>
<rect x="173.40" y="244.00" width="1" height="1" fill="#000" stroke="none"/>
<ellipse cx="185.50" cy="220.60" rx="3.00" ry="3.25" fill="none"/>
<rect x="185.00" y="220.10" width="1" height="1" fill="#000" stroke="none"/>
<ellipse cx="197.20" cy="201.60" rx="3.00" ry="3.25" fill="none"/>
<rect x="196.70" y="201.10" width="1" height="1" fill="#000" stroke="none"/>
<ellipse cx="221.20" cy="168.80" rx="3.00" ry="3.25" fill="none"/>
<rect x="220.70" y="168.30" width="1" height="1" fill="#000" stroke="none"/>
<ellipse cx="245.05" cy="149.80" rx="3.00" ry="3.25" fill="none"/>
<rect x="244.55" y="149.30" width="1" height="1" fill="#000" stroke="none"/>
<ellipse cx="256.91" cy="140.99" rx="3.00" ry="3.25" fill="none"/>
<rect x="256.41" y="140.49" width="1" height="1" fill="#000" stroke="none"/>
<ellipse cx="292.51" cy="120.62" rx="3.00" ry="3.25" fill="none"/>
<rect x="292.01" y="120.12" width="1" height="1" fill="#000" stroke="none"/>
<ellipse cx="316.24" cy="110.53" rx="3.00" ry="3.25" fill="none"/>
<rect x="315.74" y="110.03" width="1" height="1" fill="#000" stroke="none"/>
<ellipse cx="351.84" cy="98.80" rx="3.00" ry="3.25" fill="none"/>
<rect x="351.34" y="98.30" width="1" height="1" fill="#000" stroke="none"/>
<ellipse cx="375.57" cy="92.61" rx="3.00" ry="3.25" fill="none"/>
<rect x="375.07" y="92.11" width="1" height="1" fill="#000" stroke="none"/>
<ellipse cx="434.91" cy="80.87" rx="3.00" ry="3.25" fill="none"/>
<rect x="434.41" y="80.37" width="1" height="1" fill="#000" stroke="none"/>
<ellipse cx="470.50" cy="75.60" rx="3.00" ry="3.25" fill="none"/>
<rect x="470.00" y="75.10" width="1" height="1" fill="#000" stroke="none"/>
<ellipse cx="494.24" cy="72.62" rx="3.00" ry="3.25" fill="none"/>
<rect x="493.74" y="72.12" width="1" height="1" fill="#000" stroke="none"/>
<ellipse cx="553.57" cy="66.52" rx="3.00" ry="3.25" fill="none"/>
<rect x="553.07" y="66.02" width="1" height="1" fill="#000" stroke="none"/>
<ellipse cx="612.90" cy="61.84" rx="3.00" ry="3.25" fill="none"/>
<rect x="612.40" y="61.34" width="1" height="1" fill="#000" stroke="none"/>
<ellipse cx="316.10" cy="112.30" rx="3.00" ry="3.25" fill="#000"/>
<ellipse cx="613.20" cy="62.00" rx="3.00" ry="3.25" fill="#000"/>
<path d="M138.10 222.50 L135.10 228.10 L141.10 228.10 Z" fill="none"/>
<rect x="137.60" y="225.40" width="1" height="1" fill="#000" stroke="none"/>
<path d="M142.90 253.10 L139.90 258.70 L145.90 258.70 Z" fill="none"/>
<rect x="142.40" y="256.00" width="1" height="1" fill="#000" stroke="none"/>
<path d="M147.40 273.70 L144.40 279.30 L150.40 279.30 Z" fill="none"/>
<rect x="146.90" y="276.60" width="1" height="1" fill="#000" stroke="none"/>
<path d="M152.80 271.90 L149.80 277.50 L155.80 277.50 Z" fill="none"/>
<rect x="152.30" y="274.80" width="1" height="1" fill="#000" stroke="none"/>
<path d="M157.10 264.10 L154.10 269.70 L160.10 269.70 Z" fill="none"/>
<rect x="156.60" y="267.00" width="1" height="1" fill="#000" stroke="none"/>
<path d="M161.80 254.50 L158.80 260.10 L164.80 260.10 Z" fill="none"/>
<rect x="161.30" y="257.40" width="1" height="1" fill="#000" stroke="none"/>
<path d="M166.50 244.40 L163.50 250.00 L169.50 250.00 Z" fill="none"/>
<rect x="166.00" y="247.30" width="1" height="1" fill="#000" stroke="none"/>
<path d="M174.00 231.00 L171.00 236.60 L177.00 236.60 Z" fill="none"/>
<rect x="173.50" y="233.90" width="1" height="1" fill="#000" stroke="none"/>
<path d="M180.00 219.90 L177.00 225.50 L183.00 225.50 Z" fill="none"/>
<rect x="179.50" y="222.80" width="1" height="1" fill="#000" stroke="none"/>
<path d="M185.40 209.50 L182.40 215.10 L188.40 215.10 Z" fill="none"/>
<rect x="184.90" y="212.40" width="1" height="1" fill="#000" stroke="none"/>
<path d="M197.20 193.30 L194.20 198.90 L200.20 198.90 Z" fill="none"/>
<rect x="196.70" y="196.20" width="1" height="1" fill="#000" stroke="none"/>
<path d="M233.40 155.50 L230.40 161.10 L236.40 161.10 Z" fill="none"/>
<rect x="232.90" y="158.40" width="1" height="1" fill="#000" stroke="none"/>
<path d="M239.40 150.60 L236.40 156.20 L242.40 156.20 Z" fill="none"/>
<rect x="238.90" y="153.50" width="1" height="1" fill="#000" stroke="none"/>
<path d="M251.00 141.40 L248.00 147.00 L254.00 147.00 Z" fill="none"/>
<rect x="250.50" y="144.30" width="1" height="1" fill="#000" stroke="none"/>
<path d="M263.30 132.30 L260.30 137.90 L266.30 137.90 Z" fill="none"/>
<rect x="262.80" y="135.20" width="1" height="1" fill="#000" stroke="none"/>
<path d="M273.90 125.30 L270.90 130.90 L276.90 130.90 Z" fill="none"/>
<rect x="273.40" y="128.20" width="1" height="1" fill="#000" stroke="none"/>
<path d="M530.20 65.30 L527.20 70.90 L533.20 70.90 Z" fill="none"/>
<rect x="529.70" y="68.20" width="1" height="1" fill="#000" stroke="none"/>
<path d="M221.20 162.70 L218.20 168.30 L224.20 168.30 Z" fill="none"/>
<rect x="220.70" y="165.60" width="1" height="1" fill="#000" stroke="none"/>
<path d="M245.05 145.40 L242.05 151.00 L248.05 151.00 Z" fill="none"/>
<rect x="244.55" y="148.30" width="1" height="1" fill="#000" stroke="none"/>
<path d="M256.91 136.79 L253.91 142.39 L259.91 142.39 Z" fill="none"/>
<rect x="256.41" y="139.69" width="1" height="1" fill="#000" stroke="none"/>
<path d="M292.51 116.85 L289.51 122.45 L295.51 122.45 Z" fill="none"/>
<rect x="292.01" y="119.75" width="1" height="1" fill="#000" stroke="none"/>
<path d="M316.24 106.95 L313.24 112.55 L319.24 112.55 Z" fill="none"/>
<rect x="315.74" y="109.85" width="1" height="1" fill="#000" stroke="none"/>
<path d="M351.84 95.41 L348.84 101.01 L354.84 101.01 Z" fill="none"/>
<rect x="351.34" y="98.31" width="1" height="1" fill="#000" stroke="none"/>
<path d="M375.57 89.30 L372.57 94.90 L378.57 94.90 Z" fill="none"/>
<rect x="375.07" y="92.20" width="1" height="1" fill="#000" stroke="none"/>
<path d="M434.91 77.68 L431.91 83.28 L437.91 83.28 Z" fill="none"/>
<rect x="434.41" y="80.58" width="1" height="1" fill="#000" stroke="none"/>
<path d="M470.50 72.45 L467.50 78.05 L473.50 78.05 Z" fill="none"/>
<rect x="470.00" y="75.35" width="1" height="1" fill="#000" stroke="none"/>
<path d="M494.24 69.48 L491.24 75.08 L497.24 75.08 Z" fill="none"/>
<rect x="493.74" y="72.38" width="1" height="1" fill="#000" stroke="none"/>
<path d="M553.57 63.41 L550.57 69.01 L556.57 69.01 Z" fill="none"/>
<rect x="553.07" y="66.31" width="1" height="1" fill="#000" stroke="none"/>
<path d="M612.90 58.74 L609.90 64.34 L615.90 64.34 Z" fill="none"/>
<rect x="612.40" y="61.64" width="1" height="1" fill="#000" stroke="none"/>
<path d="M143.90 154.05 L140.90 148.45 L146.90 148.45 Z" fill="none"/>
<rect x="143.40" y="149.90" width="1" height="1" fill="#000" stroke="none"/>
<path d="M150.20 183.75 L147.20 178.15 L153.20 178.15 Z" fill="none"/>
<rect x="149.70" y="179.60" width="1" height="1" fill="#000" stroke="none"/>
<path d="M161.70 216.95 L158.70 211.35 L164.70 211.35 Z" fill="none"/>
<rect x="161.20" y="212.80" width="1" height="1" fill="#000" stroke="none"/>
<path d="M173.90 217.65 L170.90 212.05 L176.90 212.05 Z" fill="none"/>
<rect x="173.40" y="213.50" width="1" height="1" fill="#000" stroke="none"/>
<path d="M185.40 206.65 L182.40 201.05 L188.40 201.05 Z" fill="none"/>
<rect x="184.90" y="202.50" width="1" height="1" fill="#000" stroke="none"/>
<path d="M197.30 194.25 L194.30 188.65 L200.30 188.65 Z" fill="none"/>
<rect x="196.80" y="190.10" width="1" height="1" fill="#000" stroke="none"/>
<path d="M221.20 172.25 L218.20 166.65 L224.20 166.65 Z" fill="none"/>
<rect x="220.70" y="168.10" width="1" height="1" fill="#000" stroke="none"/>
<path d="M245.05 153.55 L242.05 147.95 L248.05 147.95 Z" fill="none"/>
<rect x="244.55" y="149.40" width="1" height="1" fill="#000" stroke="none"/>
<path d="M256.91 145.44 L253.91 139.84 L259.91 139.84 Z" fill="none"/>
<rect x="256.41" y="141.29" width="1" height="1" fill="#000" stroke="none"/>
<path d="M292.51 125.97 L289.51 120.37 L295.51 120.37 Z" fill="none"/>
<rect x="292.01" y="121.82" width="1" height="1" fill="#000" stroke="none"/>
<path d="M316.24 116.28 L313.24 110.68 L319.24 110.68 Z" fill="none"/>
<rect x="315.74" y="112.13" width="1" height="1" fill="#000" stroke="none"/>
<path d="M351.84 104.95 L348.84 99.35 L354.84 99.35 Z" fill="none"/>
<rect x="351.34" y="100.80" width="1" height="1" fill="#000" stroke="none"/>
<path d="M375.57 98.92 L372.57 93.32 L378.57 93.32 Z" fill="none"/>
<rect x="375.07" y="94.77" width="1" height="1" fill="#000" stroke="none"/>
<path d="M434.91 87.43 L431.91 81.83 L437.91 81.83 Z" fill="none"/>
<rect x="434.41" y="83.28" width="1" height="1" fill="#000" stroke="none"/>
<path d="M470.50 82.24 L467.50 76.64 L473.50 76.64 Z" fill="none"/>
<rect x="470.00" y="78.09" width="1" height="1" fill="#000" stroke="none"/>
<path d="M494.24 79.29 L491.24 73.69 L497.24 73.69 Z" fill="none"/>
<rect x="493.74" y="75.14" width="1" height="1" fill="#000" stroke="none"/>
<path d="M553.57 73.24 L550.57 67.64 L556.57 67.64 Z" fill="none"/>
<rect x="553.07" y="69.09" width="1" height="1" fill="#000" stroke="none"/>
<path d="M612.90 68.58 L609.90 62.98 L615.90 62.98 Z" fill="none"/>
<rect x="612.40" y="64.43" width="1" height="1" fill="#000" stroke="none"/>
<path d="M138.70 143.95 L135.70 138.35 L141.70 138.35 Z" fill="#000"/>
<path d="M292.50 126.95 L289.50 121.35 L295.50 121.35 Z" fill="#000"/>
<path d="M351.90 104.95 L348.90 99.35 L354.90 99.35 Z" fill="#000"/>
<path d="M435.10 86.25 L432.10 80.65 L438.10 80.65 Z" fill="#000"/>
<path d="M470.60 81.25 L467.60 75.65 L473.60 75.65 Z" fill="#000"/>
<path d="M494.40 78.75 L491.40 73.15 L497.40 73.15 Z" fill="#000"/>
<path d="M553.40 72.35 L550.40 66.75 L556.40 66.75 Z" fill="#000"/>
<path d="M375.50 100.15 L372.50 94.55 L378.50 94.55 Z" fill="#000"/>
<path d="M142.80 135.55 L139.80 138.80 L142.80 142.05 L145.80 138.80 Z" fill="none"/>
<rect x="142.30" y="138.30" width="1" height="1" fill="#000" stroke="none"/>
<path d="M147.40 139.15 L144.40 142.40 L147.40 145.65 L150.40 142.40 Z" fill="none"/>
<rect x="146.90" y="141.90" width="1" height="1" fill="#000" stroke="none"/>
<path d="M152.50 154.45 L149.50 157.70 L152.50 160.95 L155.50 157.70 Z" fill="none"/>
<rect x="152.00" y="157.20" width="1" height="1" fill="#000" stroke="none"/>
<path d="M157.10 169.45 L154.10 172.70 L157.10 175.95 L160.10 172.70 Z" fill="none"/>
<rect x="156.60" y="172.20" width="1" height="1" fill="#000" stroke="none"/>
<path d="M161.80 181.25 L158.80 184.50 L161.80 187.75 L164.80 184.50 Z" fill="none"/>
<rect x="161.30" y="184.00" width="1" height="1" fill="#000" stroke="none"/>
<path d="M166.40 189.15 L163.40 192.40 L166.40 195.65 L169.40 192.40 Z" fill="none"/>
<rect x="165.90" y="191.90" width="1" height="1" fill="#000" stroke="none"/>
<path d="M171.00 192.65 L168.00 195.90 L171.00 199.15 L174.00 195.90 Z" fill="none"/>
<rect x="170.50" y="195.40" width="1" height="1" fill="#000" stroke="none"/>
<path d="M174.00 193.85 L171.00 197.10 L174.00 200.35 L177.00 197.10 Z" fill="none"/>
<rect x="173.50" y="196.60" width="1" height="1" fill="#000" stroke="none"/>
<path d="M185.40 190.95 L182.40 194.20 L185.40 197.45 L188.40 194.20 Z" fill="none"/>
<rect x="184.90" y="193.70" width="1" height="1" fill="#000" stroke="none"/>
<path d="M197.40 182.05 L194.40 185.30 L197.40 188.55 L200.40 185.30 Z" fill="none"/>
<rect x="196.90" y="184.80" width="1" height="1" fill="#000" stroke="none"/>
<path d="M411.30 84.55 L408.30 87.80 L411.30 91.05 L414.30 87.80 Z" fill="none"/>
<rect x="410.80" y="87.30" width="1" height="1" fill="#000" stroke="none"/>
<path d="M221.20 164.35 L218.20 167.60 L221.20 170.85 L224.20 167.60 Z" fill="none"/>
<rect x="220.70" y="167.10" width="1" height="1" fill="#000" stroke="none"/>
<path d="M245.05 145.35 L242.05 148.60 L245.05 151.85 L248.05 148.60 Z" fill="none"/>
<rect x="244.55" y="148.10" width="1" height="1" fill="#000" stroke="none"/>
<path d="M256.91 137.74 L253.91 140.99 L256.91 144.24 L259.91 140.99 Z" fill="none"/>
<rect x="256.41" y="140.49" width="1" height="1" fill="#000" stroke="none"/>
<path d="M292.51 118.71 L289.51 121.96 L292.51 125.21 L295.51 121.96 Z" fill="none"/>
<rect x="292.01" y="121.46" width="1" height="1" fill="#000" stroke="none"/>
<path d="M316.24 109.20 L313.24 112.45 L316.24 115.70 L319.24 112.45 Z" fill="none"/>
<rect x="315.74" y="111.95" width="1" height="1" fill="#000" stroke="none"/>
<path d="M351.84 98.06 L348.84 101.31 L351.84 104.56 L354.84 101.31 Z" fill="none"/>
<rect x="351.34" y="100.81" width="1" height="1" fill="#000" stroke="none"/>
<path d="M375.57 92.11 L372.57 95.36 L375.57 98.61 L378.57 95.36 Z" fill="none"/>
<rect x="375.07" y="94.86" width="1" height="1" fill="#000" stroke="none"/>
<path d="M434.91 80.74 L431.91 83.99 L434.91 87.24 L437.91 83.99 Z" fill="none"/>
<rect x="434.41" y="83.49" width="1" height="1" fill="#000" stroke="none"/>
<path d="M470.50 75.59 L467.50 78.84 L470.50 82.09 L473.50 78.84 Z" fill="none"/>
<rect x="470.00" y="78.34" width="1" height="1" fill="#000" stroke="none"/>
<path d="M494.24 72.65 L491.24 75.90 L494.24 79.15 L497.24 75.90 Z" fill="none"/>
<rect x="493.74" y="75.40" width="1" height="1" fill="#000" stroke="none"/>
<path d="M553.57 66.62 L550.57 69.87 L553.57 73.12 L556.57 69.87 Z" fill="none"/>
<rect x="553.07" y="69.37" width="1" height="1" fill="#000" stroke="none"/>
<path d="M612.90 61.97 L609.90 65.22 L612.90 68.47 L615.90 65.22 Z" fill="none"/>
<rect x="612.40" y="64.72" width="1" height="1" fill="#000" stroke="none"/>
</g>
<g stroke="#000" stroke-width="3" fill="none" stroke-linecap="butt">
<rect x="138.25" y="50.50" width="474.65" height="361.90"/>
<path d="M197.58 412.40 v-7.00 M197.58 50.50 v7.00 M256.91 412.40 v-7.00 M256.91 50.50 v7.00 M316.24 412.40 v-7.00 M316.24 50.50 v7.00 M375.57 412.40 v-7.00 M375.57 50.50 v7.00 M434.91 412.40 v-7.00 M434.91 50.50 v7.00 M494.24 412.40 v-7.00 M494.24 50.50 v7.00 M553.57 412.40 v-7.00 M553.57 50.50 v7.00 M138.25 95.74 h6.30 M612.90 95.74 h-6.30 M138.25 140.98 h6.30 M612.90 140.98 h-6.30 M138.25 186.21 h6.30 M612.90 186.21 h-6.30 M138.25 231.45 h6.30 M612.90 231.45 h-6.30 M138.25 276.69 h6.30 M612.90 276.69 h-6.30 M138.25 321.93 h6.30 M612.90 321.93 h-6.30 M138.25 367.16 h6.30 M612.90 367.16 h-6.30 "/>
</g>
<text transform="translate(75.93 59.60) scale(1 1.085)" text-anchor="start" font-family="'Liberation Sans', sans-serif" font-size="24.70" fill="#000">0.04</text>
<text transform="translate(75.93 104.84) scale(1 1.085)" text-anchor="start" font-family="'Liberation Sans', sans-serif" font-size="24.70" fill="#000">0.02</text>
<text transform="translate(110.27 150.08) scale(1 1.085)" text-anchor="start" font-family="'Liberation Sans', sans-serif" font-size="24.70" fill="#000">0</text>
<text transform="translate(67.71 195.31) scale(1 1.085)" text-anchor="start" font-family="'Liberation Sans', sans-serif" font-size="24.70" fill="#000">-0.02</text>
<text transform="translate(67.71 240.55) scale(1 1.085)" text-anchor="start" font-family="'Liberation Sans', sans-serif" font-size="24.70" fill="#000">-0.04</text>
<text transform="translate(67.71 285.79) scale(1 1.085)" text-anchor="start" font-family="'Liberation Sans', sans-serif" font-size="24.70" fill="#000">-0.06</text>
<text transform="translate(67.71 331.03) scale(1 1.085)" text-anchor="start" font-family="'Liberation Sans', sans-serif" font-size="24.70" fill="#000">-0.08</text>
<text transform="translate(81.44 376.26) scale(1 1.085)" text-anchor="start" font-family="'Liberation Sans', sans-serif" font-size="24.70" fill="#000">-0.</text>
<path transform="translate(110.27 376.26) scale(0.01206 -0.01309)" d="M763 0H583V1147Q518 1085 412.5 1023T223 930V1104Q374 1175 487 1276T647 1472H763Z" fill="#000"/>
<text transform="translate(67.71 421.50) scale(1 1.085)" text-anchor="start" font-family="'Liberation Sans', sans-serif" font-size="24.70" fill="#000">-0.</text>
<path transform="translate(96.53 421.50) scale(0.01206 -0.01309)" d="M763 0H583V1147Q518 1085 412.5 1023T223 930V1104Q374 1175 487 1276T647 1472H763Z" fill="#000"/>
<text transform="translate(110.27 421.50) scale(1 1.085)" text-anchor="start" font-family="'Liberation Sans', sans-serif" font-size="24.70" fill="#000">2</text>
<text transform="translate(134.48 447.70) scale(1 1.085)" text-anchor="start" font-family="'Liberation Sans', sans-serif" font-size="24.70" fill="#000">0</text>
<text transform="translate(183.51 447.70) scale(1 1.085)" text-anchor="start" font-family="'Liberation Sans', sans-serif" font-size="24.70" fill="#000">0.5</text>
<path transform="translate(253.15 447.70) scale(0.01206 -0.01309)" d="M763 0H583V1147Q518 1085 412.5 1023T223 930V1104Q374 1175 487 1276T647 1472H763Z" fill="#000"/>
<path transform="translate(302.18 447.70) scale(0.01206 -0.01309)" d="M763 0H583V1147Q518 1085 412.5 1023T223 930V1104Q374 1175 487 1276T647 1472H763Z" fill="#000"/>
<text transform="translate(315.91 447.70) scale(1 1.085)" text-anchor="start" font-family="'Liberation Sans', sans-serif" font-size="24.70" fill="#000">.5</text>
<text transform="translate(371.81 447.70) scale(1 1.085)" text-anchor="start" font-family="'Liberation Sans', sans-serif" font-size="24.70" fill="#000">2</text>
<text transform="translate(420.84 447.70) scale(1 1.085)" text-anchor="start" font-family="'Liberation Sans', sans-serif" font-size="24.70" fill="#000">2.5</text>
<text transform="translate(490.47 447.70) scale(1 1.085)" text-anchor="start" font-family="'Liberation Sans', sans-serif" font-size="24.70" fill="#000">3</text>
<text transform="translate(539.50 447.70) scale(1 1.085)" text-anchor="start" font-family="'Liberation Sans', sans-serif" font-size="24.70" fill="#000">3.5</text>
<text transform="translate(609.13 447.70) scale(1 1.085)" text-anchor="start" font-family="'Liberation Sans', sans-serif" font-size="24.70" fill="#000">4</text>
<text transform="translate(368.83 486.20) scale(1 1.085)" text-anchor="start" font-family="'Liberation Sans', sans-serif" font-size="24.70" fill="#000">n</text>
<path transform="matrix(0 -0.01309 -0.01206 0 32.60 238.90)" d="M902 1466V463C902 150 780 -25 529 -25C300 -25 110 100 96 418L271 442C280 230 370 150 489 150C640 150 708 240 708 457V1466Z" fill="#000"/>
<text transform="translate(470.47 297.40) scale(1 1.085)" text-anchor="start" font-family="'Liberation Sans', sans-serif" font-size="24.70" fill="#000">0.</text>
<path transform="translate(491.07 297.40) scale(0.01206 -0.01309)" d="M763 0H583V1147Q518 1085 412.5 1023T223 930V1104Q374 1175 487 1276T647 1472H763Z" fill="#000"/>
<path transform="translate(446.7 297.40)" d="M0.3 -8.6C0.5 -11.6 1.6 -13.5 3.1 -13.5C5.2 -13.5 6.3 -9.5 7.1 -3.8L11.3 -13.3L12.3 -13.3L7.8 -2.2C8.3 1.0 8.1 5.3 6.6 5.3C5.0 5.3 5.0 1.0 5.9 -2.2C5.4 -6.6 4.3 -10.9 2.7 -10.9C1.8 -10.9 1.3 -9.8 1.1 -8.6Z" fill="#000"/>
<path d="M458.3 288.70 h11.7 M458.3 293.60 h11.7" stroke="#000" stroke-width="1.7" fill="none"/>
<path d="M519.1 288.50 H584.2" fill="none" stroke="#ff0000" stroke-width="3"/>
<text transform="translate(470.47 323.50) scale(1 1.085)" text-anchor="start" font-family="'Liberation Sans', sans-serif" font-size="24.70" fill="#000">0.3</text>
<path transform="translate(446.7 323.50)" d="M0.3 -8.6C0.5 -11.6 1.6 -13.5 3.1 -13.5C5.2 -13.5 6.3 -9.5 7.1 -3.8L11.3 -13.3L12.3 -13.3L7.8 -2.2C8.3 1.0 8.1 5.3 6.6 5.3C5.0 5.3 5.0 1.0 5.9 -2.2C5.4 -6.6 4.3 -10.9 2.7 -10.9C1.8 -10.9 1.3 -9.8 1.1 -8.6Z" fill="#000"/>
<path d="M458.3 314.80 h11.7 M458.3 319.70 h11.7" stroke="#000" stroke-width="1.7" fill="none"/>
<path d="M519.1 314.60 H584.2" fill="none" stroke="#00ff00" stroke-width="3" stroke-dasharray="4.4 1.65"/>
<text transform="translate(470.47 349.60) scale(1 1.085)" text-anchor="start" font-family="'Liberation Sans', sans-serif" font-size="24.70" fill="#000">0.5</text>
<path transform="translate(446.7 349.60)" d="M0.3 -8.6C0.5 -11.6 1.6 -13.5 3.1 -13.5C5.2 -13.5 6.3 -9.5 7.1 -3.8L11.3 -13.3L12.3 -13.3L7.8 -2.2C8.3 1.0 8.1 5.3 6.6 5.3C5.0 5.3 5.0 1.0 5.9 -2.2C5.4 -6.6 4.3 -10.9 2.7 -10.9C1.8 -10.9 1.3 -9.8 1.1 -8.6Z" fill="#000"/>
<path d="M458.3 340.90 h11.7 M458.3 345.80 h11.7" stroke="#000" stroke-width="1.7" fill="none"/>
<path d="M519.1 340.70 H584.2" fill="none" stroke="#0000ff" stroke-width="3" stroke-dasharray="2.4 2.65"/>
<text transform="translate(470.47 375.70) scale(1 1.085)" text-anchor="start" font-family="'Liberation Sans', sans-serif" font-size="24.70" fill="#000">0.8</text>
<path transform="translate(446.7 375.70)" d="M0.3 -8.6C0.5 -11.6 1.6 -13.5 3.1 -13.5C5.2 -13.5 6.3 -9.5 7.1 -3.8L11.3 -13.3L12.3 -13.3L7.8 -2.2C8.3 1.0 8.1 5.3 6.6 5.3C5.0 5.3 5.0 1.0 5.9 -2.2C5.4 -6.6 4.3 -10.9 2.7 -10.9C1.8 -10.9 1.3 -9.8 1.1 -8.6Z" fill="#000"/>
<path d="M458.3 367.00 h11.7 M458.3 371.90 h11.7" stroke="#000" stroke-width="1.7" fill="none"/>
<path d="M519.1 366.80 H584.2" fill="none" stroke="#ff00ff" stroke-width="3" stroke-dasharray="1.4 1.1"/>
<path transform="translate(470.47 401.80) scale(0.01206 -0.01309)" d="M763 0H583V1147Q518 1085 412.5 1023T223 930V1104Q374 1175 487 1276T647 1472H763Z" fill="#000"/>
<text transform="translate(484.20 401.80) scale(1 1.085)" text-anchor="start" font-family="'Liberation Sans', sans-serif" font-size="24.70" fill="#000">.0</text>
<path transform="translate(446.7 401.80)" d="M0.3 -8.6C0.5 -11.6 1.6 -13.5 3.1 -13.5C5.2 -13.5 6.3 -9.5 7.1 -3.8L11.3 -13.3L12.3 -13.3L7.8 -2.2C8.3 1.0 8.1 5.3 6.6 5.3C5.0 5.3 5.0 1.0 5.9 -2.2C5.4 -6.6 4.3 -10.9 2.7 -10.9C1.8 -10.9 1.3 -9.8 1.1 -8.6Z" fill="#000"/>
<path d="M458.3 393.10 h11.7 M458.3 398.00 h11.7" stroke="#000" stroke-width="1.7" fill="none"/>
<path d="M519.1 392.90 H584.2" fill="none" stroke="#00ffff" stroke-width="3" stroke-dasharray="5.7 1.6 1.3 1.6"/>
</svg>
</body></html>
